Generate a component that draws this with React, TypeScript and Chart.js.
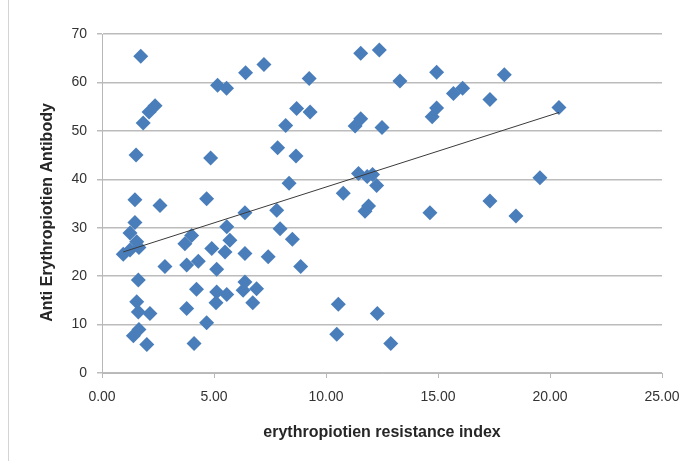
import React, { useEffect, useRef } from "react";
import { Chart, registerables } from "chart.js";

Chart.register(...registerables);

const resistanceIndex: number[] = [
  1.73, 2.37, 2.10, 1.84, 1.52, 1.47, 2.59, 4.67, 1.47, 1.25,
  1.55, 1.65, 1.25, 0.95, 2.81, 1.62, 1.55, 1.62, 2.14, 1.65,
  1.40, 2.00, 3.78, 3.70, 4.00, 3.78, 4.30, 4.90, 5.49, 5.57,
  5.71, 5.12, 4.22, 5.12, 5.57, 5.09, 4.67, 4.11, 6.38, 6.38,
  7.42, 6.38, 6.30, 6.90, 6.73, 7.80, 7.95, 8.50, 8.87, 4.85,
  5.16, 5.56, 6.41, 7.23, 7.84, 8.20, 8.35, 8.66, 8.69, 9.29,
  9.25, 10.77, 10.55, 10.48, 11.55, 12.38, 13.30, 11.30, 11.55, 12.50,
  11.45, 11.84, 12.08, 12.26, 11.90, 11.74, 12.29, 12.89, 14.64, 14.74,
  14.94, 14.94, 15.69, 16.10, 17.32, 17.96, 17.32, 18.48, 19.55, 20.40,
];

const antibody: number[] = [
  65.4, 55.2, 53.9, 51.6, 45.0, 35.8, 34.6, 36.0, 31.1, 28.9,
  27.1, 25.9, 25.4, 24.5, 22.0, 19.2, 14.7, 12.6, 12.3, 9.0,
  7.7, 5.9, 13.3, 26.7, 28.4, 22.3, 23.1, 25.7, 25.0, 30.2,
  27.4, 21.4, 17.3, 16.7, 16.2, 14.5, 10.4, 6.1, 33.1, 24.7,
  24.0, 18.8, 17.1, 17.4, 14.5, 33.6, 29.8, 27.6, 22.0, 44.4,
  59.4, 58.8, 62.0, 63.7, 46.5, 51.1, 39.2, 44.8, 54.6, 53.9,
  60.8, 37.1, 14.2, 8.0, 66.0, 66.7, 60.3, 51.0, 52.5, 50.7,
  41.2, 40.6, 41.0, 38.7, 34.5, 33.4, 12.3, 6.1, 33.1, 52.9,
  54.7, 62.1, 57.7, 58.8, 56.5, 61.6, 35.5, 32.4, 40.3, 54.8,
];

const trendX: number[] = [0.95, 20.4];
const trendY: number[] = [25.0, 53.8];

const xTicks: number[] = [0, 5, 10, 15, 20, 25];
const yTicks: number[] = [0, 10, 20, 30, 40, 50, 60, 70];

const xTitle = "erythropiotien resistance index";
const yTitle = "Anti Erythropiotien Antibody";

const FONT = "'Liberation Sans', Arial, sans-serif";

const yTitlePlugin = {
  id: "yTitlePlugin",
  afterDraw(chart: any) {
    const { ctx, chartArea } = chart;
    ctx.save();
    ctx.font = `bold 16px ${FONT}`;
    ctx.fillStyle = "#262626";
    ctx.textAlign = "center";
    ctx.textBaseline = "middle";
    ctx.translate(48, (chartArea.top + chartArea.bottom) / 2 + 9);
    ctx.rotate(-Math.PI / 2);
    ctx.fillText(yTitle, 0, 0);
    ctx.restore();
  },
};

export default function App() {
  const ref = useRef<HTMLCanvasElement | null>(null);

  useEffect(() => {
    document.body.style.margin = "0";
    const canvas = ref.current;
    if (!canvas) return;
    const points = resistanceIndex.map((x, i) => ({ x, y: antibody[i] }));
    const trend = trendX.map((x, i) => ({ x, y: trendY[i] }));
    const chart = new Chart(canvas, {
      type: "scatter",
      data: {
        datasets: [
          {
            type: "line",
            data: trend,
            borderColor: "#3a3a3a",
            borderWidth: 1,
            pointRadius: 0,
            fill: false,
            order: 0,
          } as any,
          {
            data: points,
            pointStyle: "rectRot",
            pointRadius: 7.5,
            backgroundColor: "#4a7ebb",
            borderColor: "#4a7ebb",
            borderWidth: 0,
            order: 1,
          },
        ],
      },
      plugins: [yTitlePlugin],
      options: {
        animation: false,
        responsive: false,
        devicePixelRatio: 1,
        layout: { padding: { left: 10, right: 32, top: 34, bottom: 0 } },
        plugins: { legend: { display: false }, tooltip: { enabled: false } },
        scales: {
          x: {
            type: "linear",
            min: xTicks[0],
            max: xTicks[xTicks.length - 1],
            afterBuildTicks: (s: any) => {
              s.ticks = xTicks.map((v) => ({ value: v }));
            },
            afterFit: (s: any) => {
              s.height = 88;
              s.paddingLeft = 0;
              s.paddingRight = 0;
            },
            grid: {
              drawOnChartArea: false,
              drawTicks: true,
              tickLength: 5,
              color: "#b8b8b8",
              lineWidth: 1,
            },
            border: { display: true, color: "#b8b8b8", width: 1 },
            ticks: {
              padding: 11,
              color: "#333",
              font: { family: FONT, size: 14 },
              maxRotation: 0,
              callback: (v: any) => Number(v).toFixed(2),
            },
            title: {
              display: true,
              text: xTitle,
              color: "#262626",
              font: { family: FONT, size: 16, weight: "bold" },
              padding: { top: 4, bottom: 19 },
            },
          },
          y: {
            type: "linear",
            min: yTicks[0],
            max: yTicks[yTicks.length - 1],
            afterBuildTicks: (s: any) => {
              s.ticks = yTicks.map((v) => ({ value: v }));
            },
            afterFit: (s: any) => {
              s.width = 92;
              s.paddingTop = 0;
              s.paddingBottom = 0;
            },
            grid: {
              drawOnChartArea: true,
              drawTicks: true,
              tickLength: 5,
              color: "#bcbcbc",
              lineWidth: 1.5,
            },
            border: { display: true, color: "#b8b8b8", width: 1 },
            ticks: {
              padding: 10,
              color: "#333",
              font: { family: FONT, size: 14 },
            },
            title: { display: false },
          },
        },
      },
    });
    return () => chart.destroy();
  }, []);

  return (
    <div style={{ position: "relative", width: 694, height: 461, background: "#fff" }}>
      <canvas
        ref={ref}
        width={694}
        height={461}
        style={{ position: "absolute", left: 0, top: 0, width: 694, height: 461 }}
      />
      <div
        style={{
          position: "absolute",
          left: 8,
          top: 0,
          width: 1,
          height: 461,
          background: "#d4d4d4",
        }}
      />
    </div>
  );
}
